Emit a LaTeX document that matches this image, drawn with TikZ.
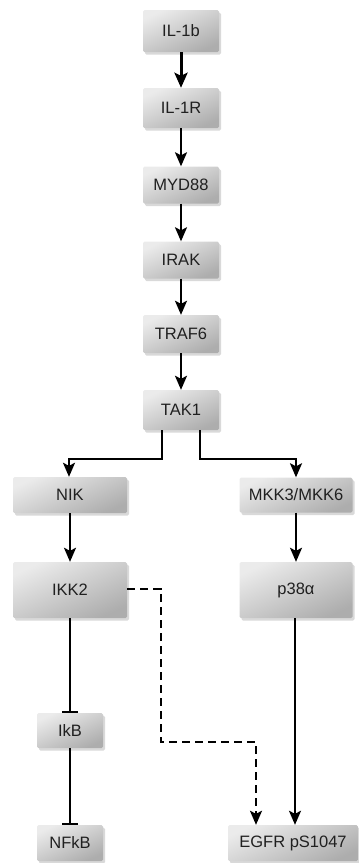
\documentclass[tikz,border=0pt]{standalone}
\usepackage{fontspec}
\setmainfont{Liberation Sans}
\usetikzlibrary{arrows.meta,shadows}
\definecolor{txt}{HTML}{202020}
\tikzset{
  gbox/.style={draw=none, rounded corners=1.5pt, top color=black!8, bottom color=black!32,
    shading angle=25, drop shadow={shadow xshift=2pt, shadow yshift=-2.5pt, opacity=0.3},
    text=txt, font=\fontsize{16.5}{18}\selectfont, inner sep=0pt},
  act/.style={-{Stealth[length=14pt,width=12pt,inset=3pt]}, line width=2pt, black},
  actthick/.style={-{Stealth[length=15pt,width=13pt,inset=3pt]}, line width=3pt, black},
  inh/.style={-{Bar[width=16pt,line width=1.4pt]}, line width=1.5pt, black},
  dashact/.style={-{Stealth[length=14pt,width=12pt,inset=3pt]}, line width=2pt, black, dash pattern=on 8pt off 5pt}
}
\begin{document}
\begin{tikzpicture}[x=1pt,y=-1pt]
\useasboundingbox (0,0) rectangle (359,863);
\node[gbox, minimum width=76pt, minimum height=42pt] (il1b) at (181,31) {IL-1b};
\node[gbox, minimum width=76pt, minimum height=40pt] (il1r) at (181,108) {IL-1R};
\node[gbox, minimum width=76pt, minimum height=37pt] (myd) at (181,185) {MYD88};
\node[gbox, minimum width=76pt, minimum height=37pt] (irak) at (181,260) {IRAK};
\node[gbox, minimum width=76pt, minimum height=38pt] (traf) at (181,334) {TRAF6};
\node[gbox, minimum width=76pt, minimum height=40pt] (tak) at (181,410) {TAK1};
\node[gbox, minimum width=114pt, minimum height=36pt] (nik) at (70,495) {NIK};
\node[gbox, minimum width=113pt, minimum height=35pt] (mkk) at (296,495) {MKK3/MKK6};
\node[gbox, minimum width=114pt, minimum height=56pt] (ikk) at (70,590) {IKK2};
\node[gbox, minimum width=113pt, minimum height=56pt] (p38) at (296,590) {p38α};
\node[gbox, minimum width=66pt, minimum height=35pt] (ikb) at (70,730.5) {IkB};
\node[gbox, minimum width=66pt, minimum height=36pt] (nfkb) at (70,843) {NFkB};
\node[gbox, minimum width=130pt, minimum height=36pt] (egfr) at (293,843) {EGFR pS1047};

\coordinate (tl1) at (162,459);
\coordinate (tl2) at (69,459);
\coordinate (tr1) at (200,459);
\coordinate (tr2) at (296,459);
\coordinate (d1) at (161,589);
\coordinate (d2) at (161,742);
\coordinate (d3) at (256,742);

\draw[actthick] (il1b) -- (il1r);
\draw[act] (il1r) -- (myd);
\draw[act] (myd) -- (irak);
\draw[act] (irak) -- (traf);
\draw[act] (traf) -- (tak);
\draw[act] (tak.south -| tl1) -- (tl1) -- (tl2) -- (nik.north -| tl2);
\draw[act] (tak.south -| tr1) -- (tr1) -- (tr2) -- (mkk.north -| tr2);
\draw[act] (nik) -- (ikk);
\draw[act] (mkk) -- (p38);
\draw[inh] (ikk) -- (ikb);
\draw[inh] (ikb) -- (nfkb);
\draw[dashact] (ikk.east |- d1) -- (d1) -- (d2) -- (d3) -- (egfr.north -| d3);
\draw[act] (p38.south -| 295,0) -- (egfr.north -| 295,0);
\end{tikzpicture}
\end{document}
